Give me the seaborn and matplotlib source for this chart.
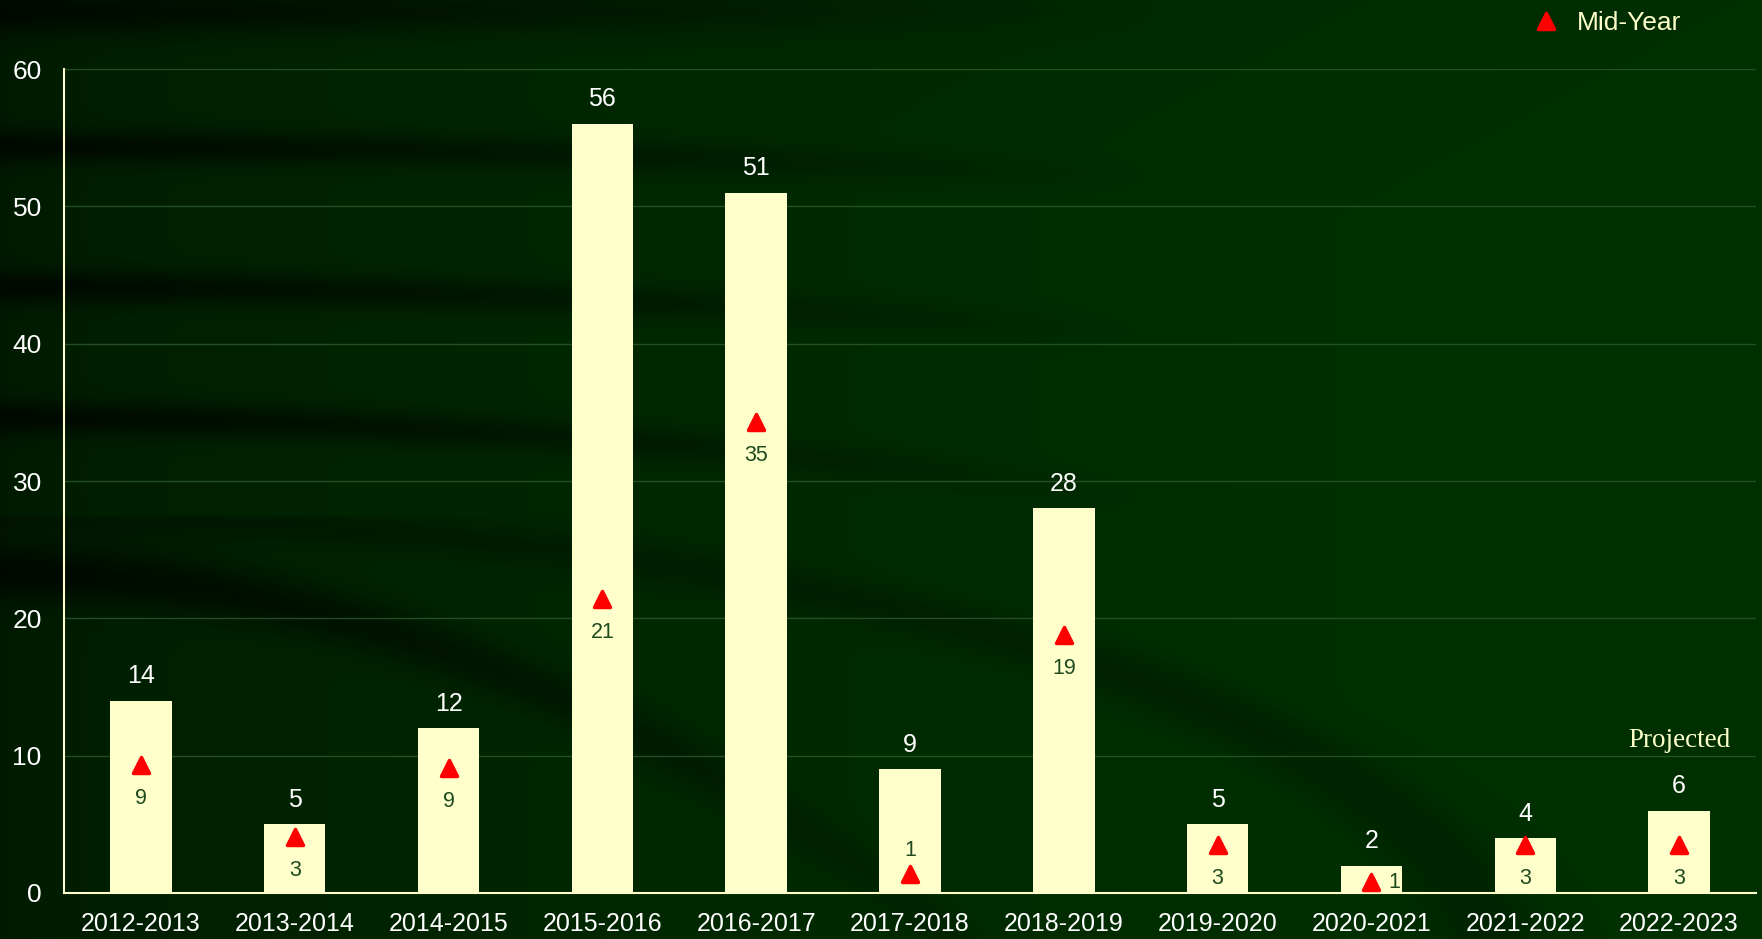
import numpy as np
import matplotlib
matplotlib.use("Agg")
import matplotlib.pyplot as plt
from matplotlib.markers import MarkerStyle
import seaborn as sns

seasons = ["2012-2013", "2013-2014", "2014-2015", "2015-2016", "2016-2017", "2017-2018",
           "2018-2019", "2019-2020", "2020-2021", "2021-2022", "2022-2023"]
totals = [14, 5, 12, 56, 51, 9, 28, 5, 2, 4, 6]
mid_year = [9.3, 4.1, 9.1, 21.4, 34.3, 1.4, 18.8, 3.5, 0.8, 3.5, 3.5]
mid_labels = ["9", "3", "9", "21", "35", "1", "19", "3", "1", "3", "3"]

sns.set_style("dark")
plt.rcParams["font.family"] = ["Liberation Sans", "DejaVu Sans"]

bar_col = "#FFFFCC"
txt_col = "#FFFFFF"
green = "#002E00"

fig = plt.figure(figsize=(17.62, 9.39), dpi=100)
fig.patch.set_facecolor(green)

# background: dark green with darker sweeping bands on the left
bg = fig.add_axes([0, 0, 1, 1], zorder=-10)
h, w = 300, 560
yy, xx = np.mgrid[0:1:h * 1j, 0:1:w * 1j]
shade = 0.55 + 0.45 * np.clip(xx * 1.3, 0, 1) ** 0.6
shade = np.minimum(shade, 0.7 + 0.3 * yy + 0.3 * xx)
bands = [(0.01, 0.0, 0.025), (0.155, 0.02, 0.018), (0.305, 0.03, 0.018), (0.445, 0.05, 0.018), (0.61, 0.33, 0.03)]
for y0, curve, wid in bands:
    yc = y0 + curve * xx ** 2 * 4
    d = np.exp(-((yy - yc) / wid) ** 2)
    fade = np.clip(1.0 - xx * 1.5, 0, 1)
    shade = shade * (1 - 0.7 * d * fade)
# soft dark arc in lower left
arc = np.exp(-(((xx / 0.85) ** 2 + ((1.05 - yy) / 0.5) ** 2 - 1) / 0.08) ** 2)
shade = shade * (1 - 0.25 * arc * (yy > 0.55))
img = np.dstack([0.0 * shade, 0.185 * shade, 0.0 * shade])
bg.imshow(img, aspect="auto", extent=[0, 1, 0, 1], interpolation="bilinear")
bg.set_axis_off()

ax = fig.add_axes([0.0363, 0.049, 0.9603, 0.8775])
ax.set_facecolor("none")

sns.barplot(x=seasons, y=totals, color=bar_col, saturation=1, width=0.4, ax=ax, zorder=2)
for p in ax.patches:
    p.set_edgecolor("none")

pos = np.arange(len(seasons))
tri = MarkerStyle("^", joinstyle="round")
ax.plot(pos, mid_year, linestyle="none", marker=tri, ms=11, color="#FF0000",
        mec="#FF0000", mew=2.5, zorder=4, label="Mid-Year")

for i, v in enumerate(totals):
    ax.annotate(str(v), (i, v), xytext=(0, 9), textcoords="offset points",
                ha="center", va="bottom", color=txt_col, fontsize=18)

for i, (v, lab) in enumerate(zip(mid_year, mid_labels)):
    if i == 5:
        off, ha = (0, 17), "center"
    elif i == 8:
        off, ha = (12, 0), "left"
    else:
        off, ha = (0, -24), "center"
    ax.annotate(lab, (i, v), xytext=off, textcoords="offset points",
                ha=ha, va="center", color="#1E4A1E", fontsize=15.5, zorder=5)

ax.text(len(seasons) - 1, 10.2, "Projected", ha="center", va="bottom",
        family=["Liberation Serif", "DejaVu Serif"], fontsize=19.5, color=bar_col)

ax.set_xlim(-0.5, len(seasons) - 0.5)
ax.set_ylim(0, 60)
ax.set_yticks(range(0, 61, 10))
ax.set_xlabel("")
ax.set_ylabel("")
ax.yaxis.grid(True, color="#2E5A2E", linewidth=1, alpha=0.8)
ax.xaxis.grid(False)
ax.set_axisbelow(True)

ax.set_xticks(pos)
ax.set_xticklabels(seasons)
ax.set_xticks(np.arange(-0.5, len(seasons), 1.0), minor=True)
ax.tick_params(axis="x", which="major", length=0, pad=14, labelsize=18, labelcolor=txt_col)
ax.tick_params(axis="x", which="minor", length=6, width=1.5, color=bar_col, direction="out")
ax.tick_params(axis="y", length=6, width=1.5, color=bar_col, direction="out", labelsize=19,
               labelcolor=txt_col, pad=10)
for s in ["top", "right"]:
    ax.spines[s].set_visible(False)
for s in ["left", "bottom"]:
    ax.spines[s].set_visible(True)
    ax.spines[s].set_color(bar_col)
    ax.spines[s].set_linewidth(1.5)

leg = ax.legend(loc="upper right", bbox_to_anchor=(0.962, 1.083), frameon=False,
                fontsize=19, handletextpad=0.4, handlelength=1.5, borderaxespad=0)
for t in leg.get_texts():
    t.set_color(bar_col)

fig.savefig("out.png", dpi=100, facecolor=fig.get_facecolor())
